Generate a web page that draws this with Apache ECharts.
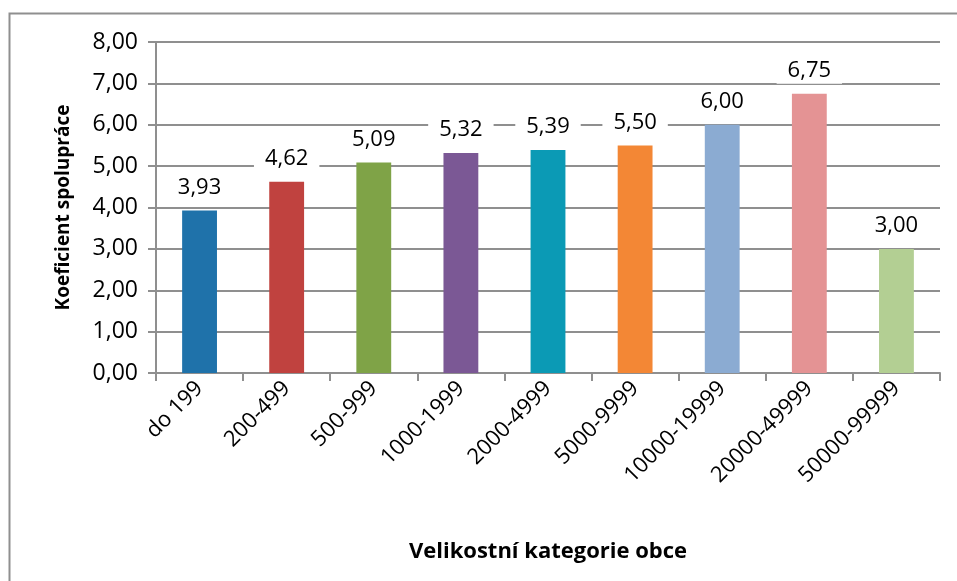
<!DOCTYPE html>
<html>
<head>
<meta charset="utf-8">
<script src="https://cdn.jsdelivr.net/npm/echarts@6/dist/echarts.min.js"></script>
<style>
  html, body { margin: 0; padding: 0; background: #fff; }
  #chart { width: 957px; height: 581px; }
</style>
</head>
<body>
<div id="chart"></div>
<script>
// Size categories of municipalities and their cooperation coefficient
const categories = ['do 199', '200-499', '500-999', '1000-1999', '2000-4999', '5000-9999', '10000-19999', '20000-49999', '50000-99999'];
const values = [3.93, 4.62, 5.09, 5.32, 5.39, 5.50, 6.00, 6.75, 3.00];
const barColors = ['#1F72AA', '#C0423F', '#7FA347', '#7B5895', '#0B9AB5', '#F38735', '#8BABD2', '#E49394', '#B3CF93'];

const FONT = '"Open Sans", Lato, sans-serif';
const fmt = v => v.toFixed(2).replace('.', ',');

const chart = echarts.init(document.getElementById('chart'), null, { renderer: 'canvas' });

chart.setOption({
  animation: false,
  backgroundColor: '#fff',
  graphic: [{
    type: 'rect',
    shape: { x: 9.5, y: 13.5, width: 1000, height: 700 },
    style: { fill: 'none', stroke: '#8f8f8f', lineWidth: 2 },
    silent: true
  }],
  grid: { left: 156, right: 17, top: 42, bottom: 208 },
  xAxis: {
    type: 'category',
    data: categories,
    name: 'Velikostní kategorie obce',
    nameLocation: 'middle',
    nameGap: 168,
    nameTextStyle: { fontFamily: FONT, fontSize: 22, fontWeight: 'bold', color: '#000' },
    axisLine: { lineStyle: { color: '#8f8f8f', width: 2 } },
    axisTick: { show: true, alignWithLabel: false, length: 8, lineStyle: { color: '#8f8f8f', width: 2 } },
    axisLabel: { rotate: 45, fontFamily: FONT, fontSize: 22, color: '#000', margin: 12, interval: 0 }
  },
  yAxis: {
    type: 'value',
    min: 0,
    max: 8,
    interval: 1,
    name: 'Koeficient spolupráce',
    nameLocation: 'middle',
    nameGap: 83,
    nameTextStyle: { fontFamily: FONT, fontSize: 19, fontWeight: 'bold', color: '#000' },
    axisLine: { show: true, lineStyle: { color: '#8f8f8f', width: 2 } },
    axisTick: { show: true, length: 8, lineStyle: { color: '#8f8f8f', width: 2 } },
    axisLabel: { fontFamily: FONT, fontSize: 23, color: '#000', margin: 18, formatter: v => fmt(v) },
    splitLine: { show: true, lineStyle: { color: '#8f8f8f', width: 2 } }
  },
  series: [{
    type: 'bar',
    data: values.map((v, i) => ({ value: v, itemStyle: { color: barColors[i] } })),
    barWidth: '40%',
    label: {
      show: true,
      position: 'top',
      distance: 10,
      formatter: p => fmt(p.value),
      fontFamily: FONT,
      fontSize: 22,
      color: '#000',
      backgroundColor: '#fff',
      padding: [2, 11]
    }
  }]
});
</script>
</body>
</html>
